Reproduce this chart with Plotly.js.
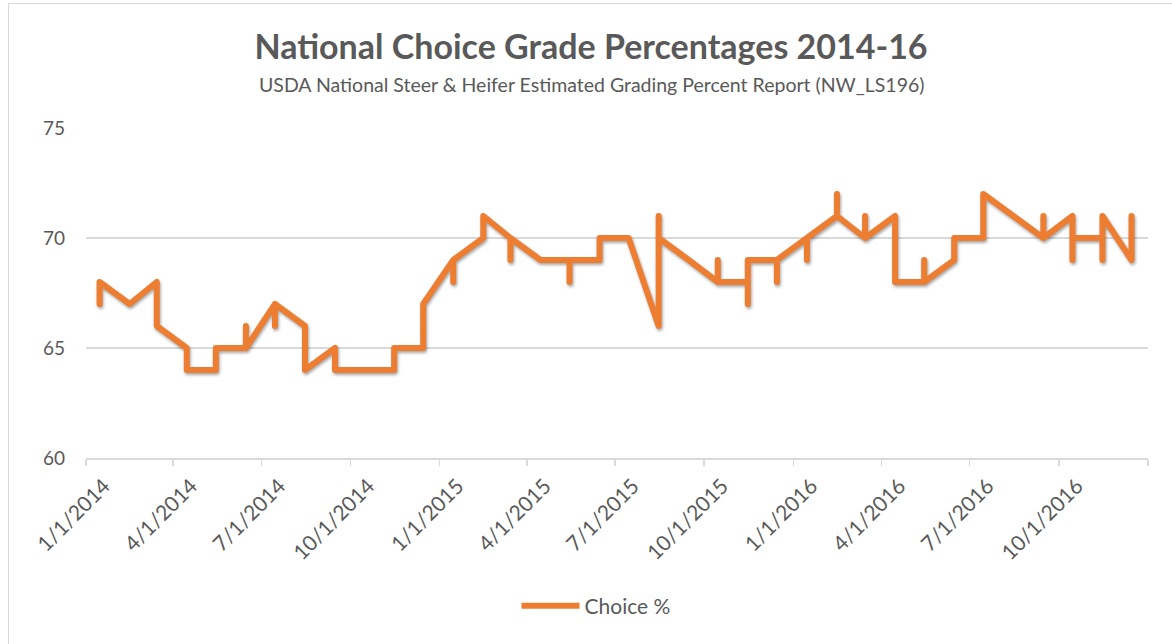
<!DOCTYPE html>
<html>
<head>
<meta charset="utf-8">
<script src="https://cdn.plot.ly/plotly-3.0.1.min.js"></script>
<style>
  html, body { margin: 0; padding: 0; background: #ffffff; }
  #frame { position: absolute; left: 8px; top: 3px; width: 1180px; height: 700px; border: 1.5px solid #d9d9d9; box-sizing: border-box; }
  #chart { position: absolute; left: 0; top: 0; width: 1172px; height: 644px; }
  .scatterlayer .js-line { stroke-linejoin: round; stroke-linecap: round; filter: drop-shadow(1.5px 2.5px 1.5px rgba(0,0,0,0.35)); }
</style>
</head>
<body>
<div id="frame"></div>
<div id="chart"></div>
<script>
// Months (each month's weekly readings are plotted at the month's mid-point, as in the original date axis)
const months = [
  '2014-01','2014-02','2014-03','2014-04','2014-05','2014-06','2014-07','2014-08','2014-09','2014-10','2014-11','2014-12',
  '2015-01','2015-02','2015-03','2015-04','2015-05','2015-06','2015-07','2015-08','2015-09','2015-10','2015-11','2015-12',
  '2016-01','2016-02','2016-03','2016-04','2016-05','2016-06','2016-07','2016-08','2016-09','2016-10','2016-11','2016-12'
];
// Weekly Choice % readings, in report order, grouped by month
const choicePct = [
  [67,68],[67],[68,66],[65,64],[64,65],[65,66,65],[67,66,67],[66,64],[65,64],[64],[64,65],[65,67],
  [69,68,69],[70,71],[70,69,70],[69],[69,68,69],[69,70],[70],[66,71,70],[69],[68,69,68],[68,67,69],[69,68,69],
  [70,69,70],[71,72,71],[70,71,70],[71,68],[68,69,68],[69,70],[70,72],[71],[70,71,70],[71,69,70],[70,69,71],[69,71]
];
const seriesName = 'Choice %';
const titleText = 'National Choice Grade Percentages 2014-16';
const subtitleText = 'USDA National Steer &amp; Heifer Estimated Grading Percent Report (NW_LS196)';
const yTicks = [60, 65, 70, 75];
const xTicks = ['2014-01-01','2014-04-01','2014-07-01','2014-10-01','2015-01-01','2015-04-01',
                '2015-07-01','2015-10-01','2016-01-01','2016-04-01','2016-07-01','2016-10-01','2017-01-01'];
const xTickText = ['1/1/2014','4/1/2014','7/1/2014','10/1/2014','1/1/2015','4/1/2015',
                   '7/1/2015','10/1/2015','1/1/2016','4/1/2016','7/1/2016','10/1/2016',''];

const xs = [], ys = [];
months.forEach((m, i) => {
  choicePct[i].forEach(v => { xs.push(m + '-15'); ys.push(v); });
});

const fontFam = 'Lato, "Open Sans", sans-serif';
const grey = '#595959';

const trace = {
  x: xs, y: ys, type: 'scatter', mode: 'lines', name: seriesName,
  line: { color: '#ED7D31', width: 6 }
};

const layout = {
  width: 1172, height: 644,
  paper_bgcolor: 'rgba(0,0,0,0)', plot_bgcolor: 'rgba(0,0,0,0)',
  margin: { l: 86, r: 24, t: 128, b: 186 },
  font: { family: fontFam, color: grey },
  title: {
    text: titleText, x: 591/1172, xanchor: 'center', xref: 'container',
    y: 1 - 47/644, yanchor: 'middle', yref: 'container',
    font: { family: fontFam, size: 34, color: grey, weight: 'bold' }
  },
  annotations: [{
    text: subtitleText, xref: 'paper', yref: 'paper',
    x: (592-86)/1062, y: 1 + (128-84)/330, xanchor: 'center', yanchor: 'middle',
    showarrow: false, font: { family: fontFam, size: 19.5, color: grey }
  }],
  xaxis: {
    type: 'date', range: ['2014-01-01', '2017-01-01'],
    tickvals: xTicks, ticktext: xTickText,
    tickangle: -45, ticks: 'outside', ticklen: 6, tickcolor: '#d9d9d9', tickwidth: 1.5,
    ticklabelshift: 18,
    showgrid: false, showline: true, linecolor: '#d9d9d9', linewidth: 1.5,
    tickfont: { family: fontFam, size: 21, color: grey }, zeroline: false
  },
  yaxis: {
    range: [60, 75], tickvals: yTicks, ticktext: yTicks.map(String),
    showgrid: true, gridcolor: '#d9d9d9', gridwidth: 1.5, zeroline: false, showline: false,
    ticks: '', ticklabelstandoff: 20,
    tickfont: { family: fontFam, size: 19, color: grey }
  },
  showlegend: true,
  legend: {
    orientation: 'h', xref: 'container', yref: 'container',
    x: 596/1172, xanchor: 'center', y: 1 - 606/644, yanchor: 'middle',
    itemwidth: 58, font: { family: fontFam, size: 21, color: grey }
  }
};

Plotly.newPlot('chart', [trace], layout, { displayModeBar: false, staticPlot: true });
</script>
</body>
</html>
